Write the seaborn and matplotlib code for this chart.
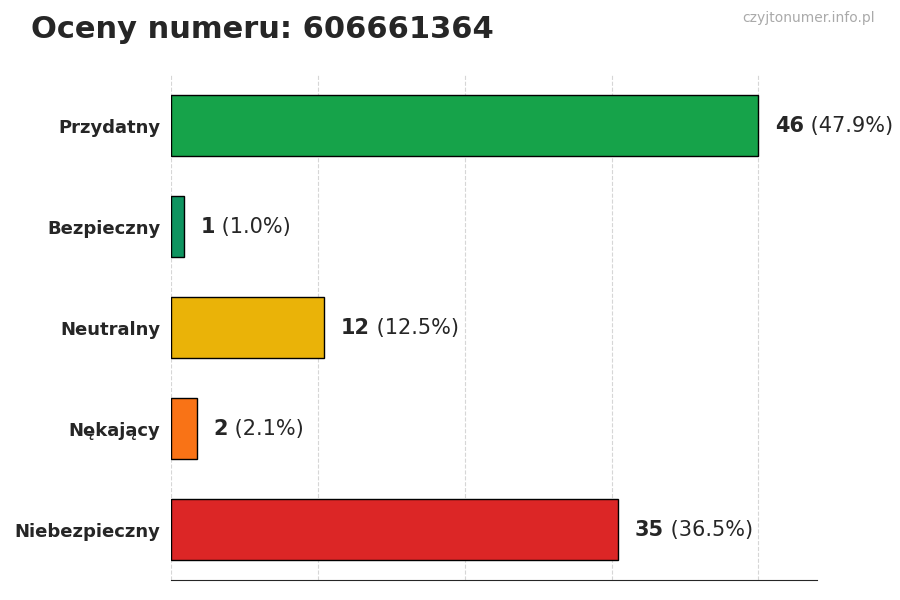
import matplotlib
matplotlib.use("Agg")
from matplotlib import pyplot as plt
import seaborn as sns
import pandas as pd

categories = ["Przydatny", "Bezpieczny", "Neutralny", "Nękający", "Niebezpieczny"]
counts = [46, 1, 12, 2, 35]
percents = ["47.9%", "1.0%", "12.5%", "2.1%", "36.5%"]
colors = ["#16a34a", "#0f9460", "#eab308", "#f97316", "#dc2626"]
number = "606661364"

sns.set_style("white")
plt.rcParams["font.family"] = ["DejaVu Sans"]

df = pd.DataFrame({"cat": categories, "n": counts})
fig = plt.figure(figsize=(9, 6), dpi=100)
ax = fig.add_axes([0.19, 0.033, 0.718, 0.842])
sns.barplot(data=df, y="cat", x="n", hue="cat", palette=colors, orient="h",
            width=0.6, edgecolor="black", linewidth=1, saturation=1, legend=False, ax=ax)

top = max(counts)
ax.set_xlim(0, top * 1.1)
ax.set_xticks([top * i / 4 for i in range(5)])
ax.set_xticklabels([])
ax.grid(axis="x", linestyle="--", color="#cccccc", alpha=0.8)
ax.set_axisbelow(True)
ax.set_xlabel("")
ax.set_ylabel("")
for s in ["top", "right", "left"]:
    ax.spines[s].set_visible(False)
ax.tick_params(axis="y", length=4, labelsize=13)
ax.tick_params(axis="x", length=5)
for lbl in ax.get_yticklabels():
    lbl.set_fontweight("bold")

for i, (n, p) in enumerate(zip(counts, percents)):
    t = ax.annotate(f"{n}", (n, i), xytext=(12, 0), textcoords="offset points",
                    va="center", fontsize=15, fontweight="bold")
    ax.annotate(f" ({p})", xy=(1, 0.5), xycoords=t, va="center", fontsize=15)

fig.text(0.034, 0.95, f"Oceny numeru: {number}", fontsize=22, fontweight="bold", va="center")
fig.text(0.972, 0.97, "czyjtonumer.info.pl", fontsize=10, color="#aaaaaa", ha="right", va="center")

fig.savefig("out.png", dpi=100)
